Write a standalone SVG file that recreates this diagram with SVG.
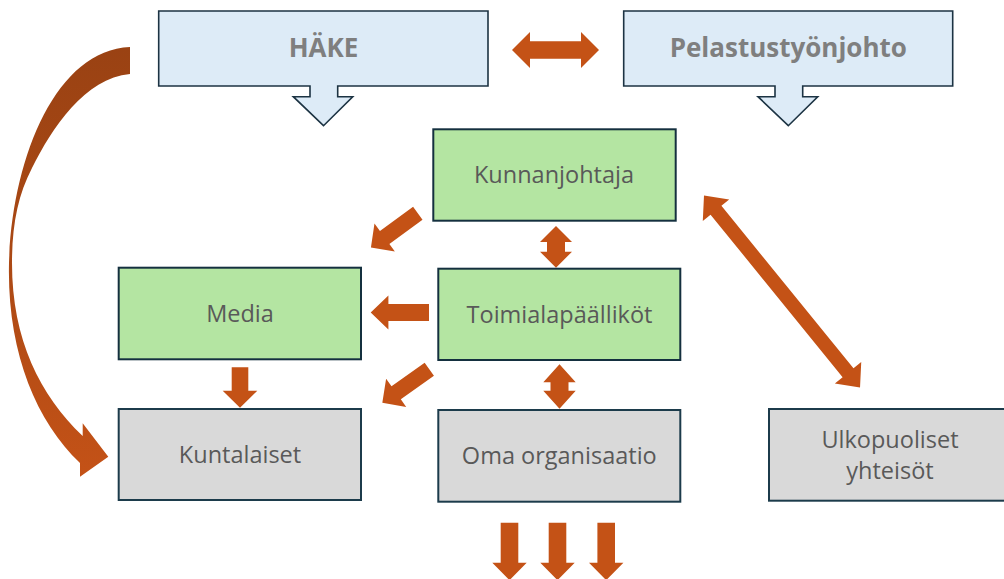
<svg xmlns="http://www.w3.org/2000/svg" width="1004" height="579" viewBox="0 0 1004 579">
  <defs>
    <linearGradient id="curveGrad" x1="0" y1="47" x2="0" y2="477" gradientUnits="userSpaceOnUse">
      <stop offset="0" stop-color="#9A4213"/>
      <stop offset="0.45" stop-color="#A94814"/>
      <stop offset="1" stop-color="#C45217"/>
    </linearGradient>
  </defs>
  <style>
    .blue { fill: #DDEBF7; stroke: #1C3343; stroke-width: 1.6; }
    .green { fill: #B4E5A2; stroke: #14303F; stroke-width: 2; }
    .grey { fill: #D9D9D9; stroke: #1C3B4B; stroke-width: 2; }
    .title { font-family: "Open Sans", "Liberation Sans", sans-serif; font-weight: bold; font-size: 26px; fill: #7F7F7F; text-anchor: middle; }
    .lbl { font-family: "Open Sans", "Liberation Sans", sans-serif; font-size: 23.5px; fill: #595959; text-anchor: middle; }
    .arr { fill: #C45216; }
  </style>

  <g id="connectors">
    <!-- curved arrow HÄKE -> Kuntalaiset -->
    <path fill="url(#curveGrad)" d="M130,47 C55,50 12,160 9,263 C7,350 35,420 80,463 L80,476.7 L108.3,456.7 L82.7,423.3 L82.7,436 C40,395 12,340 12,263 C12,225 18,195 32,168 C52,128 85,78 130,74 Z"/>
    <!-- HÄKE <-> Pelastustyönjohto -->
    <polygon class="arr" transform="translate(512,50)" points="0,0 18,-18 18,-8.8 69,-8.8 69,-18 87,0 69,18 69,8.8 18,8.8 18,18"/>
    <!-- Kunnanjohtaja <-> Toimialapäälliköt -->
    <polygon class="arr" transform="translate(556,226) rotate(90)" points="0,0 16,-16 16,-9 25.7,-9 25.7,-16 41.7,0 25.7,16 25.7,9 16,9 16,16"/>
    <!-- Toimialapäälliköt <-> Oma organisaatio -->
    <polygon class="arr" transform="translate(559.5,364.3) rotate(90)" points="0,0 18,-16.2 18,-9 26.4,-9 26.4,-16.2 44.4,0 26.4,16.2 26.4,9 18,9 18,16.2"/>
    <!-- Kunnanjohtaja <-> Ulkopuoliset -->
    <polygon class="arr" transform="translate(704,195.5) rotate(50.9)" points="0,0 19,-17 19,-7 228.4,-7 228.4,-17 247.4,0 228.4,17 228.4,7 19,7 19,17"/>
    <!-- Kunnanjohtaja -> Media -->
    <polygon class="arr" transform="translate(417.8,213.3) rotate(143.9)" points="0,-8 41,-8 41,-17.3 58,0 41,17.3 41,8 0,8"/>
    <!-- Toimialapäälliköt -> Media -->
    <polygon class="arr" transform="translate(429,312.5) rotate(180)" points="0,-8.5 40.6,-8.5 40.6,-17 58.3,0 40.6,17 40.6,8.5 0,8.5"/>
    <!-- Toimialapäälliköt -> Kuntalaiset -->
    <polygon class="arr" transform="translate(429.3,369.2) rotate(144.5)" points="0,-8 40.7,-8 40.7,-17.3 57.7,0 40.7,17.3 40.7,8 0,8"/>
    <!-- Media -> Kuntalaiset -->
    <polygon class="arr" transform="translate(240,367.3) rotate(90)" points="0,-8.3 23.4,-8.3 23.4,-17.3 40.4,0 23.4,17.3 23.4,8.3 0,8.3"/>
    <!-- Oma organisaatio outputs -->
    <polygon class="arr" transform="translate(509.5,522.7) rotate(90)" points="0,-8.8 40,-8.8 40,-17.2 57.5,0 40,17.2 40,8.8 0,8.8"/>
    <polygon class="arr" transform="translate(557.5,522.7) rotate(90)" points="0,-8.8 40,-8.8 40,-17.2 57.5,0 40,17.2 40,8.8 0,8.8"/>
    <polygon class="arr" transform="translate(606.2,522.7) rotate(90)" points="0,-8.8 40,-8.8 40,-17.2 57.5,0 40,17.2 40,8.8 0,8.8"/>
  </g>

  <g id="node-hake">
    <path class="blue" d="M158.7,11 H488 V86 H337.7 V96.7 H352.7 L323.5,125.7 L293.3,96.7 H310 V86 H158.7 Z"/>
    <text class="title" x="323.5" y="57.3">HÄKE</text>
  </g>

  <g id="node-pelastustyonjohto">
    <path class="blue" d="M623.7,11 H952.7 V86 H802.7 V96.7 H817.7 L788.3,125.7 L758,96.7 H775 V86 H623.7 Z"/>
    <text class="title" x="788.3" y="57.3">Pelastustyönjohto</text>
  </g>

  <g id="node-kunnanjohtaja">
    <rect class="green" x="433.3" y="129.3" width="242.4" height="91.4"/>
    <text class="lbl" x="554" y="183.3">Kunnanjohtaja</text>
  </g>

  <g id="node-toimialapaallikot">
    <rect class="green" x="438.3" y="268.7" width="242" height="91.3"/>
    <text class="lbl" x="559.5" y="322.7">Toimialapäälliköt</text>
  </g>

  <g id="node-media">
    <rect class="green" x="118.7" y="267.7" width="242.3" height="91.6"/>
    <text class="lbl" x="240" y="321.7">Media</text>
  </g>

  <g id="node-kuntalaiset">
    <rect class="grey" x="118.7" y="409" width="242.3" height="91"/>
    <text class="lbl" x="240" y="462.7">Kuntalaiset</text>
  </g>

  <g id="node-oma-organisaatio">
    <rect class="grey" x="438.3" y="410" width="242" height="91.7"/>
    <text class="lbl" x="559.3" y="464">Oma organisaatio</text>
  </g>

  <g id="node-ulkopuoliset">
    <rect class="grey" x="769" y="409" width="242" height="91.7"/>
    <text class="lbl" x="890" y="448.3">Ulkopuoliset</text>
    <text class="lbl" x="890" y="479">yhteisöt</text>
  </g>
</svg>
